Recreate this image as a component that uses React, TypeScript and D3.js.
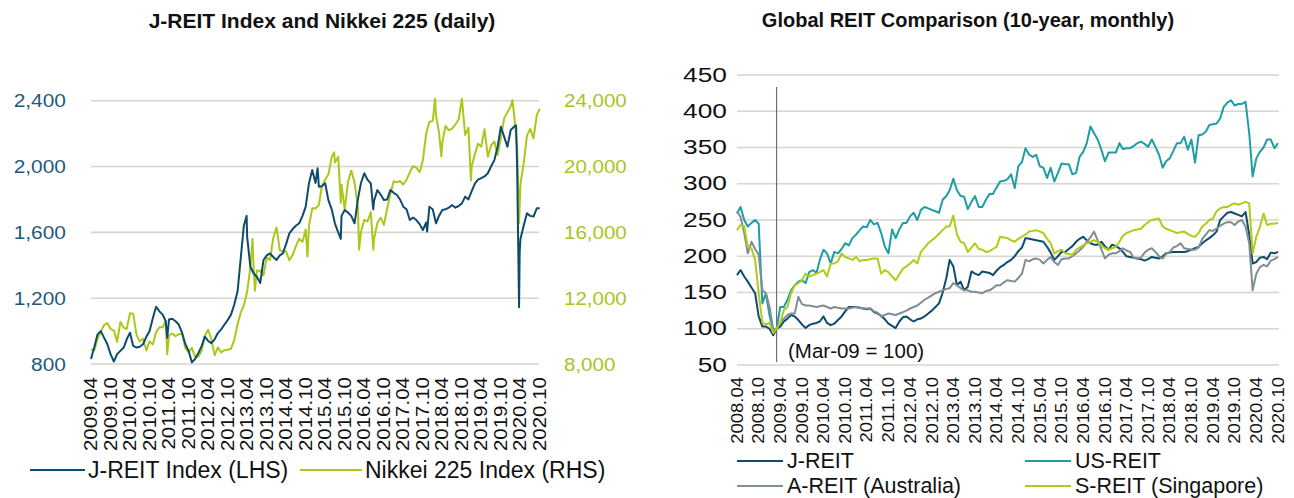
import React from 'react';
import * as d3 from 'd3';

const W = 1294;
const H = 498;
const FONT = '"Liberation Sans", Arial, Helvetica, sans-serif';

const NAVY = '#0e4c6d';
const LIME = '#abc71a';
const TEAL = '#1d9ea7';
const GREY = '#7e8e92';
const SLIME = '#b2cb16';
const GRID = '#d9d4cd';

// ---- left chart: J-REIT index vs Nikkei 225 (daily) ----
const leftStart = '2009-04-01';
const jreitMonthly = [
  830, 900, 980, 1000, 960, 920, 860, 815, 860,
  880, 900, 950, 990, 910, 900, 905, 920, 966, 1000, 1080, 1148,
  1120, 1100, 1060, 1070, 1075, 1060, 1040, 990, 920, 880, 810, 830,
  867, 910, 966, 940, 927, 950, 988, 1010, 1040, 1067, 1100, 1160,
  1240, 1450, 1640, 1573, 1391, 1350, 1330, 1292, 1432, 1460, 1472, 1450,
  1432, 1460, 1472, 1530, 1594, 1620, 1640, 1655, 1700, 1756, 1900, 1979,
  1900, 1877, 1880, 1898, 1796, 1740, 1655, 1600, 1700, 1736, 1720, 1700,
  1655, 1800, 1900, 1959, 1920, 1898, 1790, 1857, 1830, 1796, 1800, 1857,
  1840, 1827, 1800, 1756, 1740, 1675, 1690, 1675, 1650, 1614, 1660, 1756,
  1740, 1655, 1700, 1736, 1740, 1750, 1766, 1750, 1760, 1776, 1817, 1800,
  1850, 1898, 1920, 1930, 1940, 1959, 2000, 2039, 2120, 2242, 2180, 2120,
  2222, 2242, 2000, 1560, 1640, 1716, 1700, 1696, 1746,
];
const jreitExtra: [string, number][] = [
  ['2011-03-15', 960], ['2013-03-27', 1700], ['2015-01-20', 1990],
  ['2015-08-25', 1560], ['2016-06-24', 1740], ['2017-11-10', 1605],
  ['2020-02-20', 2250], ['2020-03-19', 1145], ['2020-03-25', 1480],
  ['2020-09-28', 1746],
];
const nikkeiMonthly = [
  8900, 8830, 9520, 9960, 10360, 10490, 10130, 10030, 9350,
  10550, 10200, 10130, 11090, 11060, 9770, 9380, 9540, 8820, 9370, 9200, 9940,
  10230, 10240, 10620, 9760, 9850, 9690, 9820, 9830, 8960, 8700, 8990, 8430,
  8460, 8800, 9720, 10080, 9520, 8540, 9010, 8700, 8840, 8870, 8930, 9450,
  10400, 11140, 11560, 12400, 13860, 13770, 13680, 13670, 13390, 14460, 14330, 15660,
  16290, 14910, 14840, 14830, 14300, 14630, 15160, 15620, 15420, 16170, 16410, 17460,
  17450, 17670, 18800, 19210, 19520, 20560, 20240, 20590, 18890, 17390, 19080, 19750,
  19030, 17520, 16030, 16760, 16670, 17230, 15580, 16570, 16890, 16450, 17430, 18310,
  19110, 19040, 19120, 18910, 19200, 19650, 20030, 19930, 19650, 20360, 22010, 22720,
  22760, 23100, 22070, 21450, 22470, 22200, 22300, 22550, 22870, 24120, 21920, 22350,
  20010, 20770, 21390, 21210, 22260, 20600, 21280, 21520, 20700, 21760, 22930, 23290,
  23660, 23210, 21140, 18920, 20190, 21880, 22290, 21710, 23140,
];
const nikkeiExtra: [string, number][] = [
  ['2011-03-15', 8600], ['2013-05-22', 15600], ['2013-06-13', 12450],
  ['2014-10-17', 14530], ['2015-06-24', 20870], ['2015-08-25', 17800],
  ['2016-02-12', 14950], ['2016-06-24', 14950], ['2018-01-23', 24120],
  ['2018-03-23', 20620], ['2018-12-25', 19160], ['2020-01-17', 24040],
  ['2020-03-19', 16550], ['2020-09-28', 23510],
];
const leftTicks = [800, 1200, 1600, 2000, 2400];
const rightTicks = [8000, 12000, 16000, 20000, 24000];
const leftXLabels = [
  '2009.04', '2009.10', '2010.04', '2010.10', '2011.04', '2011.10', '2012.04', '2012.10',
  '2013.04', '2013.10', '2014.04', '2014.10', '2015.04', '2015.10', '2016.04', '2016.10',
  '2017.04', '2017.10', '2018.04', '2018.10', '2019.04', '2019.10', '2020.04', '2020.10',
];

// ---- right chart: global REITs, monthly, Mar-09 = 100 ----
const rightStart = '2008-04-01';
const jReit = [
  174, 181, 172, 165, 157, 149, 117, 103, 103,
  100, 91, 100, 103, 110, 114, 119, 117, 112, 106, 101, 105,
  107, 108, 110, 117, 108, 105, 107, 112, 117, 124, 130, 130,
  130, 129, 128, 127, 128, 123, 121, 118, 113, 107, 104, 101,
  110, 116, 117, 113, 110, 113, 114, 117, 121, 125, 130, 135,
  150, 170, 195, 186, 160, 165, 153, 158, 179, 176, 174, 179,
  178, 177, 174, 180, 185, 188, 192, 195, 200, 207, 212, 225,
  224, 223, 222, 221, 220, 213, 205, 195, 200, 206, 206, 210,
  214, 220, 224, 227, 222, 218, 216, 216, 220, 214, 209, 216,
  214, 211, 206, 200, 199, 198, 197, 196, 194, 196, 199, 198,
  197, 200, 204, 205, 206, 206, 206, 206, 207, 209, 211, 213,
  218, 222, 225, 229, 234, 250, 255, 260, 261, 259, 257, 255,
  261, 230, 190, 192, 198, 199, 196, 205, 204, 206,
];
const usReit = [
  259, 268, 250, 241, 246, 250, 245, 135, 149,
  118, 98, 100, 130, 130, 140, 153, 160, 165, 167, 163, 178,
  181, 177, 195, 209, 204, 190, 206, 204, 210, 218, 215, 225,
  230, 236, 241, 240, 250, 244, 246, 232, 213, 204, 237, 225,
  237, 246, 246, 255, 260, 250, 264, 268, 266, 264, 262, 260,
  278, 283, 291, 307, 291, 283, 282, 265, 275, 283, 268, 268,
  278, 286, 286, 295, 303, 304, 306, 313, 294, 324, 330, 349,
  340, 337, 340, 324, 322, 308, 322, 303, 315, 328, 327, 327,
  313, 315, 337, 344, 356, 379, 370, 361, 347, 331, 343, 343,
  343, 356, 348, 349, 349, 352, 356, 358, 355, 351, 361, 351,
  340, 322, 331, 335, 345, 356, 356, 365, 347, 361, 329, 367,
  368, 372, 381, 382, 383, 390, 406, 412, 415, 408, 410, 410,
  413, 370, 310, 335, 344, 350, 361, 361, 349, 356,
];
const aReit = [
  262, 254, 232, 204, 220, 210, 202, 153, 149,
  130, 98, 100, 108, 114, 119, 121, 121, 144, 134, 132, 132,
  131, 130, 131, 132, 130, 128, 130, 129, 128, 128, 128, 129,
  130, 129, 128, 128, 128, 124, 122, 117, 119, 121, 120, 119,
  121, 123, 125, 128, 130, 132, 136, 140, 143, 146, 149, 151,
  153, 155, 156, 163, 160, 156, 153, 153, 151, 151, 150, 149,
  152, 153, 156, 160, 160, 164, 167, 166, 165, 170, 176, 195,
  193, 196, 197, 195, 190, 195, 199, 192, 188, 196, 197, 197,
  200, 204, 208, 213, 220, 226, 234, 222, 210, 197, 202, 204,
  204, 207, 211, 208, 206, 198, 197, 198, 205, 209, 211, 206,
  200, 197, 203, 206, 212, 214, 218, 211, 210, 209, 209, 212,
  224, 230, 236, 235, 238, 242, 245, 247, 247, 243, 248, 250,
  241, 218, 153, 176, 185, 188, 186, 194, 196, 199,
];
const sReit = [
  236, 243, 241, 213, 211, 195, 149, 108, 106,
  108, 94, 100, 108, 126, 130, 149, 160, 163, 167, 176, 172,
  174, 176, 178, 181, 172, 190, 190, 193, 204, 199, 197, 195,
  199, 193, 195, 195, 196, 197, 197, 176, 181, 178, 172, 167,
  175, 183, 186, 190, 195, 190, 206, 212, 218, 222, 226, 231,
  236, 241, 241, 256, 230, 220, 218, 206, 212, 218, 210, 209,
  206, 207, 210, 213, 227, 226, 225, 222, 220, 224, 227, 230,
  234, 235, 236, 234, 232, 224, 218, 204, 207, 209, 204, 203,
  202, 209, 212, 215, 218, 220, 222, 220, 215, 211, 209, 211,
  213, 220, 228, 232, 234, 236, 237, 238, 243, 247, 250, 251,
  252, 241, 238, 236, 234, 232, 233, 234, 231, 228, 227, 232,
  241, 245, 250, 252, 262, 266, 268, 268, 271, 273, 271, 273,
  275, 273, 204, 227, 240, 259, 243, 245, 245, 246,
];
const globalTicks = [50, 100, 150, 200, 250, 300, 350, 400, 450];
const rightXLabels = [
  '2008.04', '2008.10', '2009.04', '2009.10', '2010.04', '2010.10', '2011.04', '2011.10',
  '2012.04', '2012.10', '2013.04', '2013.10', '2014.04', '2014.10', '2015.04', '2015.10',
  '2016.04', '2016.10', '2017.04', '2017.10', '2018.04', '2018.10', '2019.04', '2019.10',
  '2020.04', '2020.10',
];

const parseDay = d3.timeParse('%Y-%m-%d');
const parseLabel = d3.timeParse('%Y.%m');

type Pt = { date: Date; value: number };

function monthly(start: string, values: number[], extra: [string, number][] = []): Pt[] {
  const s = parseDay(start) as Date;
  const pts = values.map((v, i) => ({ date: d3.timeMonth.offset(s, i), value: v }));
  extra.forEach(([d, v]) => pts.push({ date: parseDay(d) as Date, value: v }));
  return pts.sort((a, b) => +a.date - +b.date);
}

const fmtComma = d3.format(',');

function Txt(props: any) {
  const { x, y, size, sx = 1, sy = 1, rotate = 0, anchor = 'start', fill = '#111', weight = 'normal', children } = props;
  return (
    <text
      transform={`translate(${x},${y}) rotate(${rotate}) scale(${sx},${sy})`}
      fontSize={size}
      fontFamily={FONT}
      fontWeight={weight}
      textAnchor={anchor}
      dominantBaseline="central"
      fill={fill}
    >
      {children}
    </text>
  );
}

function LeftChart() {
  const x = d3.scaleTime().domain([parseDay('2009-04-01') as Date, parseDay('2020-10-01') as Date]).range([91, 540]);
  const yL = d3.scaleLinear().domain([800, 2400]).range([364, 100.7]);
  const yR = d3.scaleLinear().domain([8000, 24000]).range([364, 100.7]);

  const jr = monthly(leftStart, jreitMonthly, jreitExtra);
  const nk = monthly(leftStart, nikkeiMonthly, nikkeiExtra);
  const lineL = d3.line<Pt>().x((d) => x(d.date)).y((d) => yL(d.value));
  const lineR = d3.line<Pt>().x((d) => x(d.date)).y((d) => yR(d.value));

  return (
    <g>
      <Txt x={322} y={20} size={21} weight="bold" anchor="middle">J-REIT Index and Nikkei 225 (daily)</Txt>
      {leftTicks.map((t) => (
        <line key={t} x1={91} x2={539} y1={yL(t)} y2={yL(t)} stroke={GRID} strokeWidth={1.6} />
      ))}
      {leftTicks.map((t) => (
        <Txt key={t} x={66} y={yL(t)} size={19} sx={1.1} anchor="end" fill="#1d5a7a">{fmtComma(t)}</Txt>
      ))}
      {rightTicks.map((t) => (
        <Txt key={t} x={564} y={yR(t)} size={19} sx={1.08} fill="#a9c41c">{fmtComma(t)}</Txt>
      ))}
      <path d={lineR(nk) || ''} fill="none" stroke={LIME} strokeWidth={2} strokeLinejoin="round" />
      <path d={lineL(jr) || ''} fill="none" stroke={NAVY} strokeWidth={2} strokeLinejoin="round" />
      {leftXLabels.map((l) => (
        <Txt key={l} x={x(parseLabel(l) as Date)} y={377} size={20.5} sy={0.85} rotate={-90} anchor="end">{l}</Txt>
      ))}
      <line x1={30} x2={85} y1={470} y2={470} stroke={NAVY} strokeWidth={2} />
      <Txt x={88} y={470} size={23}>J-REIT Index (LHS)</Txt>
      <line x1={300} x2={362} y1={470} y2={470} stroke={LIME} strokeWidth={2} />
      <Txt x={365} y={470} size={23}>Nikkei 225 Index (RHS)</Txt>
    </g>
  );
}

function RightChart() {
  const x = d3.scaleTime().domain([parseDay('2008-04-01') as Date, parseDay('2020-10-01') as Date]).range([737, 1278]);
  const y = d3.scaleLinear().domain([50, 450]).range([365, 75]);
  const line = d3.line<Pt>().x((d) => x(d.date)).y((d) => y(d.value));
  const series = [
    { name: 'J-REIT', values: jReit, color: NAVY },
    { name: 'US-REIT', values: usReit, color: TEAL },
    { name: 'A-REIT (Australia)', values: aReit, color: GREY },
    { name: 'S-REIT (Singapore)', values: sReit, color: SLIME },
  ];
  const legendPos = [
    [737, 461], [1025, 461], [737, 486], [1025, 486],
  ];
  const mar09 = x(parseDay('2009-03-01') as Date);

  return (
    <g>
      <Txt x={968} y={20} size={20} weight="bold" anchor="middle">Global REIT Comparison (10-year, monthly)</Txt>
      {globalTicks.map((t) => (
        <line key={t} x1={737} x2={1279} y1={y(t)} y2={y(t)} stroke={GRID} strokeWidth={1.6} />
      ))}
      {globalTicks.map((t) => (
        <Txt key={t} x={727} y={y(t)} size={19.5} sx={1.35} anchor="end">{t}</Txt>
      ))}
      <line x1={mar09} x2={mar09} y1={87} y2={362} stroke="#6f6f6f" strokeWidth={1.2} />
      <Txt x={788} y={350} size={20.5}>(Mar-09 = 100)</Txt>
      {series.map((s) => (
        <path
          key={s.name}
          d={line(monthly(rightStart, s.values)) || ''}
          fill="none"
          stroke={s.color}
          strokeWidth={2}
          strokeLinejoin="round"
        />
      ))}
      {rightXLabels.map((l) => (
        <Txt key={l} x={x(parseLabel(l) as Date)} y={377} size={18.5} sy={0.92} rotate={-90} anchor="end">{l}</Txt>
      ))}
      {series.map((s, i) => (
        <g key={s.name}>
          <line x1={legendPos[i][0]} x2={legendPos[i][0] + 46} y1={legendPos[i][1]} y2={legendPos[i][1]} stroke={s.color} strokeWidth={2} />
          <Txt x={legendPos[i][0] + 50} y={legendPos[i][1]} size={21.5}>{s.name}</Txt>
        </g>
      ))}
    </g>
  );
}

export default function App() {
  return (
    <svg
      width={W}
      height={H}
      viewBox={`0 0 ${W} ${H}`}
      style={{ position: 'absolute', left: 0, top: 0, background: '#fff' }}
    >
      <LeftChart />
      <RightChart />
    </svg>
  );
}
